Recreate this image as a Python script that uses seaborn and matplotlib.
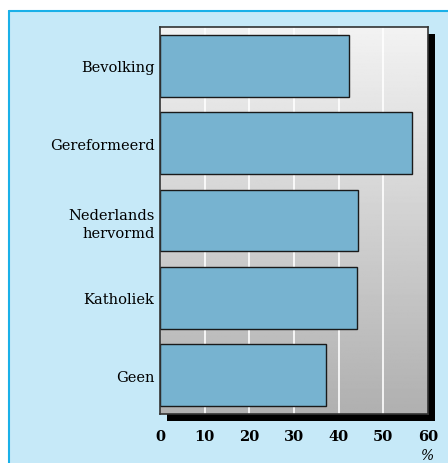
import numpy as np
import pandas as pd
import seaborn as sns
import matplotlib.pyplot as plt
from matplotlib.patches import Rectangle
from matplotlib.lines import Line2D

# data
groups = ["Bevolking", "Gereformeerd", "Nederlands\nhervormd", "Katholiek", "Geen"]
percent = [42.3, 56.4, 44.4, 44.0, 37.2]
xticks = [0, 10, 20, 30, 40, 50, 60]

df = pd.DataFrame({"group": groups, "percent": percent})

sns.set_style("white")
plt.rcParams['font.family'] = ['DejaVu Serif']
plt.rcParams['text.color'] = 'black'
plt.rcParams['xtick.color'] = 'black'
plt.rcParams['ytick.color'] = 'black'

W, H = 448, 464
fig = plt.figure(figsize=(W / 100, H / 100), dpi=100)
fig.patch.set_facecolor("white")

# light blue panel with cyan border on top and left
fig.patches.append(Rectangle((8 / W, 0), 1, 1 - 11 / H, transform=fig.transFigure,
                             facecolor="#c6e9f8", edgecolor="none", zorder=0))
fig.lines.append(Line2D([8.5 / W, 8.5 / W], [0, 1 - 11.5 / H], transform=fig.transFigure,
                        color="#1ab0e8", lw=1.5))
fig.lines.append(Line2D([8.5 / W, 1], [1 - 11.5 / H, 1 - 11.5 / H], transform=fig.transFigure,
                        color="#1ab0e8", lw=1.5))

x0, x1, y0, y1 = 160, 428, 28, 415
# black drop shadow behind the plot area
fig.patches.append(Rectangle(((x0 + 7) / W, 1 - (y1 + 7) / H), (x1 - x0) / W, (y1 - y0) / H,
                             transform=fig.transFigure, facecolor="black",
                             edgecolor="none", zorder=1))

ax = fig.add_axes([x0 / W, 1 - y1 / H, (x1 - x0) / W, (y1 - y0) / H])
ax.set_zorder(2)

# grey vertical gradient background
grad = np.linspace(0.95, 0.69, 256).reshape(-1, 1)
ax.imshow(grad, cmap="gray", vmin=0, vmax=1, aspect="auto",
          extent=[0, 1, 0, 1], transform=ax.transAxes, zorder=0)

for t in xticks[1:-1]:
    ax.axvline(t, color="white", lw=1.2, zorder=1)

sns.barplot(data=df, x="percent", y="group", orient="h", color="#77b3d0",
            saturation=1, edgecolor="#1a1a1a", linewidth=1, width=0.8, ax=ax, zorder=2)

ax.set_xlim(0, 60)
ax.set_xticks(xticks)
ax.set_xticklabels([str(t) for t in xticks], fontsize=10.5, fontweight="bold")
ax.set_xlabel("")
ax.set_ylabel("")
ax.tick_params(axis="y", length=0, pad=4, labelsize=10.5)
ax.tick_params(axis="x", length=0, pad=11)
for lbl in ax.get_yticklabels():
    lbl.set_horizontalalignment("right")
    lbl.set_multialignment("right")
    lbl.set_linespacing(1.4)
for s in ax.spines.values():
    s.set_color("#333333")
    s.set_linewidth(1.2)

ax.text(1.0, -0.105, "%", transform=ax.transAxes, ha="center", va="center",
        fontsize=10, fontstyle="italic")

fig.savefig("out.png", dpi=100)
